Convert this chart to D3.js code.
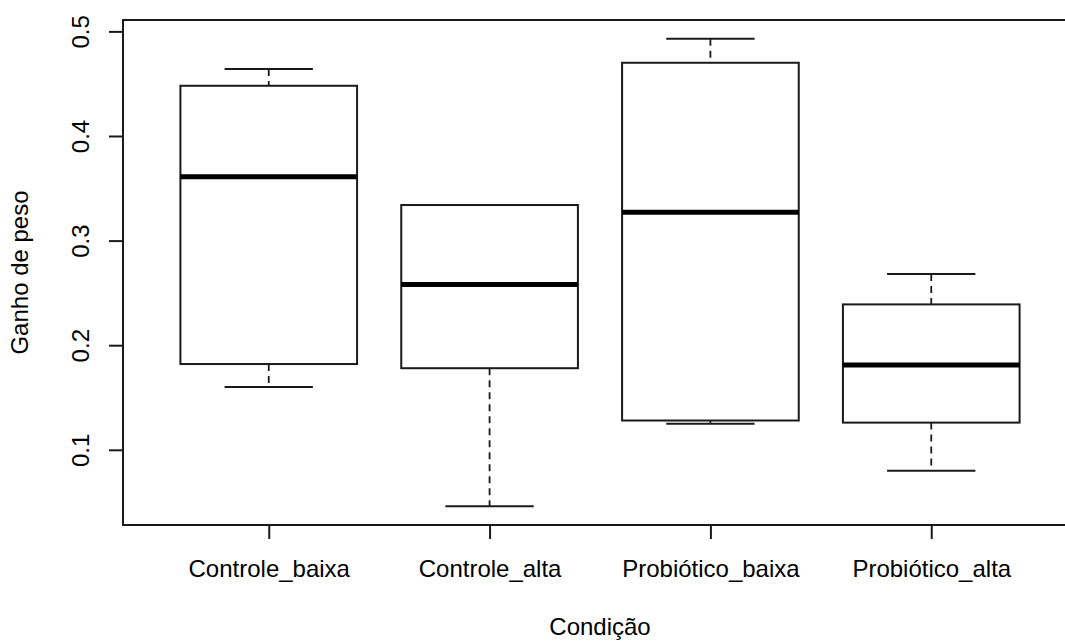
<!DOCTYPE html>
<html>
<head>
<meta charset="utf-8">
<script src="https://cdn.jsdelivr.net/npm/d3@7"></script>
<style>
  body { margin: 0; background: #fff; }
  svg { display: block; }
  text { font-family: "Liberation Sans", Arial, sans-serif; fill: #000; }
</style>
</head>
<body>
<svg width="1065" height="641"></svg>
<script>
// groups and their five-number summaries
var categories = ["Controle_baixa", "Controle_alta", "Probiótico_baixa", "Probiótico_alta"];
var whiskerLow  = [0.160, 0.046, 0.125, 0.080];
var q1          = [0.182, 0.178, 0.128, 0.126];
var median      = [0.361, 0.258, 0.327, 0.181];
var q3          = [0.448, 0.334, 0.470, 0.239];
var whiskerHigh = [0.464, 0.334, 0.493, 0.268];
var yTicks = [0.1, 0.2, 0.3, 0.4, 0.5];
var xTitle = "Condição",
    yTitle = "Ganho de peso";

var boxes = categories.map(function(c, i) {
  return {name: c, pos: i + 1, lo: whiskerLow[i], q1: q1[i], med: median[i], q3: q3[i], hi: whiskerHigh[i]};
});

var svg = d3.select("svg"),
    margin = {top: 20, left: 123, bottom: 525, right: 1077};

// R style: 4% padding on both axes
var n = categories.length;
var x = d3.scaleLinear()
    .domain([0.5 - 0.04 * n, n + 0.5 + 0.04 * n])
    .range([margin.left, margin.right]);

var ymin = d3.min(whiskerLow), ymax = d3.max(whiskerHigh), pad = (ymax - ymin) * 0.04;
var y = d3.scaleLinear()
    .domain([ymin - pad, ymax + pad])
    .range([margin.bottom, margin.top]);

var stroke = "#1a1a1a";

/********** boxes **********/
var g = svg.append("g").attr("class", "boxes");
var bw = 0.4;

var box = g.selectAll("g.box")
    .data(boxes)
    .enter().append("g")
    .attr("class", "box");

// dashed whiskers
box.append("line")
    .attr("x1", function(d) { return x(d.pos); })
    .attr("x2", function(d) { return x(d.pos); })
    .attr("y1", function(d) { return y(d.hi); })
    .attr("y2", function(d) { return y(d.q3); })
    .attr("stroke", stroke).attr("stroke-width", 1.8)
    .attr("stroke-dasharray", "7,5");

box.append("line")
    .attr("x1", function(d) { return x(d.pos); })
    .attr("x2", function(d) { return x(d.pos); })
    .attr("y1", function(d) { return y(d.q1); })
    .attr("y2", function(d) { return y(d.lo); })
    .attr("stroke", stroke).attr("stroke-width", 1.8)
    .attr("stroke-dasharray", "7,5");

// caps
["hi", "lo"].forEach(function(k) {
  box.filter(function(d) { return d[k] !== d.q3; })
    .append("line")
    .attr("x1", function(d) { return x(d.pos - bw / 2); })
    .attr("x2", function(d) { return x(d.pos + bw / 2); })
    .attr("y1", function(d) { return y(d[k]); })
    .attr("y2", function(d) { return y(d[k]); })
    .attr("stroke", stroke).attr("stroke-width", 2);
});

box.append("rect")
    .attr("x", function(d) { return x(d.pos - bw); })
    .attr("width", function(d) { return x(d.pos + bw) - x(d.pos - bw); })
    .attr("y", function(d) { return y(d.q3); })
    .attr("height", function(d) { return y(d.q1) - y(d.q3); })
    .attr("fill", "#fff")
    .attr("stroke", stroke).attr("stroke-width", 2);

// median
box.append("line")
    .attr("x1", function(d) { return x(d.pos - bw); })
    .attr("x2", function(d) { return x(d.pos + bw); })
    .attr("y1", function(d) { return y(d.med); })
    .attr("y2", function(d) { return y(d.med); })
    .attr("stroke", "#000").attr("stroke-width", 5);

/********** frame + axes **********/
svg.append("rect")
    .attr("x", margin.left).attr("y", margin.top)
    .attr("width", margin.right - margin.left)
    .attr("height", margin.bottom - margin.top)
    .attr("fill", "none")
    .attr("stroke", stroke).attr("stroke-width", 2);

var yAxis = svg.append("g")
    .attr("transform", "translate(" + margin.left + ",0)")
    .call(d3.axisLeft(y).tickValues(yTicks).tickSize(14).tickFormat(d3.format(".1f")));
yAxis.select(".domain").remove();
yAxis.selectAll("line").attr("stroke", stroke).attr("stroke-width", 2);
yAxis.selectAll("text")
    .attr("x", null).attr("dy", null)
    .attr("transform", "translate(-34,0) rotate(-90)")
    .attr("text-anchor", "middle")
    .style("font-size", "24px")
    .style("font-family", "Liberation Sans, Arial, sans-serif")
    .attr("fill", "#000");

var xAxis = svg.append("g")
    .attr("transform", "translate(0," + margin.bottom + ")")
    .call(d3.axisBottom(x).tickValues(boxes.map(function(d) { return d.pos; }))
      .tickSize(14).tickFormat(function(d) { return categories[d - 1]; }));
xAxis.select(".domain").remove();
xAxis.selectAll("line").attr("stroke", stroke).attr("stroke-width", 2);
xAxis.selectAll("text")
    .attr("y", 52).attr("dy", null)
    .style("font-size", "24px")
    .style("font-family", "Liberation Sans, Arial, sans-serif")
    .attr("fill", "#000");

svg.append("text")
    .attr("x", (margin.left + margin.right) / 2)
    .attr("y", 635)
    .attr("text-anchor", "middle")
    .style("font-size", "24px")
    .text(xTitle);

svg.append("text")
    .attr("transform", "translate(28," + (margin.top + margin.bottom) / 2 + ") rotate(-90)")
    .attr("text-anchor", "middle")
    .style("font-size", "24px")
    .text(yTitle);
</script>
</body>
</html>
